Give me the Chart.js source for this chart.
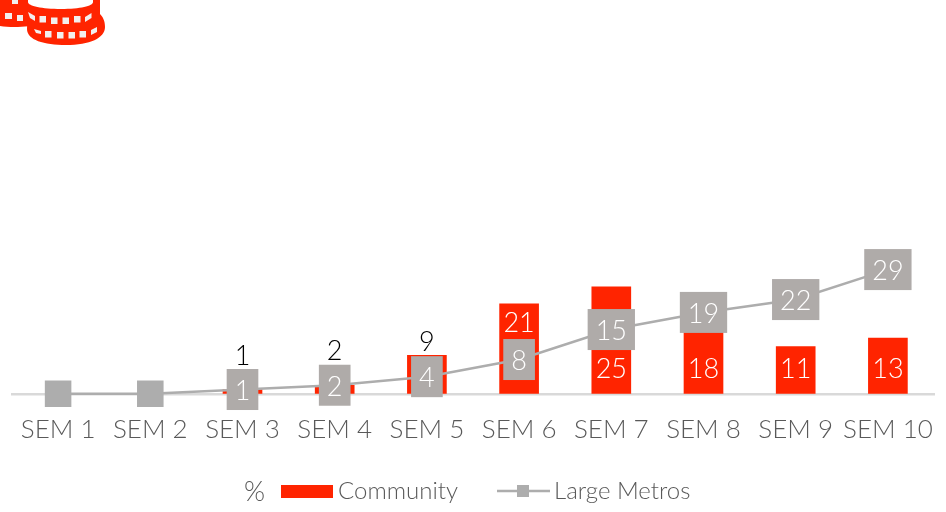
<!DOCTYPE html>
<html>
<head>
<meta charset="utf-8">
<title>Community vs Large Metros</title>
<script src="https://cdn.jsdelivr.net/npm/chart.js@4"></script>
<style>
  html, body { margin: 0; padding: 0; background: #fff; }
  #wrap { position: relative; width: 946px; height: 512px; overflow: hidden; }
  #logo { position: absolute; left: 0; top: 0; }
</style>
</head>
<body>
<div id="wrap">
  <canvas id="semChart" width="946" height="512"></canvas>
  <!-- coin stack, cut by the top edge like in the original slide -->
  <svg id="logo" width="110" height="50" viewBox="0 0 110 50">
    <path d="M0 0 H40 V24 C30 27 12 28 0 26 Z" fill="#ff2400"/>
    <g fill="#f3efee">
      <rect x="5" y="13" width="7" height="6"/><rect x="17" y="15" width="6" height="6"/>
      <rect x="12" y="-3" width="6" height="7"/>
    </g>
    <path d="M28 0 H100 V14 C103 17 105 21 105 27 C105 38 90 45 66 45 C44 45 27 40 27 29 Z" fill="#ff2400"/>
    <path d="M28 -6 H93 V2 C93 6 80 9 61 9 C42 9 28 6 28 2 Z" fill="#fff"/>
    <g fill="#f3efee">
      <path d="M28 12 L35 16 V21 L30 18 Z"/>
      <rect x="39.500" y="16" width="6.500" height="6.500"/><rect x="51" y="17.500" width="6.500" height="6.500"/>
      <rect x="62.500" y="17.500" width="6.500" height="6.500"/><rect x="74" y="16" width="6.500" height="6.500"/>
      <path d="M85 17 L91.500 13 V18 L85 22 Z"/>
      <path d="M34 29 L41 31 V34 L36 33 Z"/>
      <rect x="45" y="31" width="6.500" height="6.500"/><rect x="57" y="32" width="6.500" height="6.500"/>
      <rect x="68.500" y="32" width="6.500" height="6.500"/><rect x="79.500" y="31" width="6.500" height="6.500"/>
      <path d="M91 30 L97 27 V32 L91 35 Z"/>
    </g>
  </svg>
</div>
<script>
const categories = ['SEM 1', 'SEM 2', 'SEM 3', 'SEM 4', 'SEM 5', 'SEM 6', 'SEM 7', 'SEM 8', 'SEM 9', 'SEM 10'];
const communityValues = [0, 0, 1, 2, 9, 21, 25, 18, 11, 13];
const largeMetrosValues = [0, 0, 1, 2, 4, 8, 15, 19, 22, 29];
const unitLabel = '%';

const RED = '#ff2400';
const GREY = '#adadad';
const BOX = '#afaba9';
const FONT = 'Lato, "Open Sans", sans-serif';

// boxes on the line and the labels of the bars, Chart.js core has no datalabels
const labelsPlugin = {
  id: 'semLabels',
  afterDatasetsDraw(chart) {
    const ctx = chart.ctx;
    const bars = chart.getDatasetMeta(1).data;
    const points = chart.getDatasetMeta(0).data;
    const base = chart.scales.y.getPixelForValue(0);
    ctx.save();
    ctx.font = '300 27px ' + FONT;
    ctx.textAlign = 'center';
    ctx.textBaseline = 'middle';

    const boxH = 41;
    largeMetrosValues.forEach(function(v, i) {
      if (!v) return;
      const p = points[i];
      const w = ctx.measureText(String(v)).width + 16;
      ctx.fillStyle = BOX;
      ctx.fillRect(p.x - w / 2, p.y - boxH / 2, w, boxH);
      ctx.fillStyle = '#fff';
      ctx.fillText(String(v), p.x, p.y + 2);
    });

    communityValues.forEach(function(v, i) {
      if (!v) return;
      const b = bars[i];
      const boxTop = points[i].y - boxH / 2;
      const boxBottom = points[i].y + boxH / 2;
      const baseSlot = base - 27;
      if (v < 10) {
        // too small to hold a label, goes above the bar and the box
        ctx.fillStyle = '#000';
        ctx.fillText(String(v), b.x, Math.min(b.y, boxTop) - 13);
      } else {
        const covered = boxTop < baseSlot + 14 && boxBottom > baseSlot - 14;
        ctx.fillStyle = '#fff';
        ctx.fillText(String(v), b.x, (covered ? b.y + 17 : baseSlot) + 2);
      }
    });
    ctx.restore();
  }
};

const legendPlugin = {
  id: 'semLegend',
  afterDraw(chart) {
    const ctx = chart.ctx;
    const y = 491;
    ctx.save();
    ctx.textBaseline = 'middle';
    ctx.textAlign = 'left';
    ctx.fillStyle = '#595959';
    ctx.font = '300 27px ' + FONT;
    ctx.fillText(unitLabel, 244, y + 1);
    ctx.font = '300 24px ' + FONT;
    ctx.fillText(chart.data.datasets[1].label, 338, y);
    ctx.fillText(chart.data.datasets[0].label, 554, y);
    ctx.fillStyle = RED;
    ctx.fillRect(281, 485, 52, 13);
    ctx.strokeStyle = GREY;
    ctx.lineWidth = 2.5;
    ctx.beginPath();
    ctx.moveTo(497, y);
    ctx.lineTo(550, y);
    ctx.stroke();
    ctx.fillStyle = GREY;
    ctx.fillRect(517, y - 6, 12, 12);
    ctx.restore();
  }
};

new Chart(document.getElementById('semChart'), {
  data: {
    labels: categories,
    datasets: [
      {
        type: 'line',
        label: 'Large Metros',
        data: largeMetrosValues,
        borderColor: GREY,
        borderWidth: 2.5,
        backgroundColor: GREY,
        pointStyle: 'rect',
        pointRadius: 17,
        tension: 0,
        clip: false,
        order: 0
      },
      {
        type: 'bar',
        label: 'Community',
        data: communityValues,
        backgroundColor: function(c) { return c.raw ? RED : 'transparent'; },
        barThickness: 39,
        order: 1
      }
    ]
  },
  options: {
    responsive: false,
    animation: false,
    // big square markers would otherwise pull the plot in from the edges
    layout: { autoPadding: false, padding: { left: 12, right: 12, top: 4, bottom: 55 } },
    plugins: { legend: { display: false }, tooltip: { enabled: false } },
    scales: {
      x: {
        grid: { display: false },
        border: { color: '#d9d9d9', width: 2.5 },
        ticks: {
          color: '#595959',
          font: { family: FONT, size: 26, weight: '300' },
          padding: 12,
          autoSkip: false,
          maxRotation: 0
        }
      },
      y: { display: false, min: 0, max: 91 }
    }
  },
  plugins: [labelsPlugin, legendPlugin]
});
</script>
</body>
</html>
